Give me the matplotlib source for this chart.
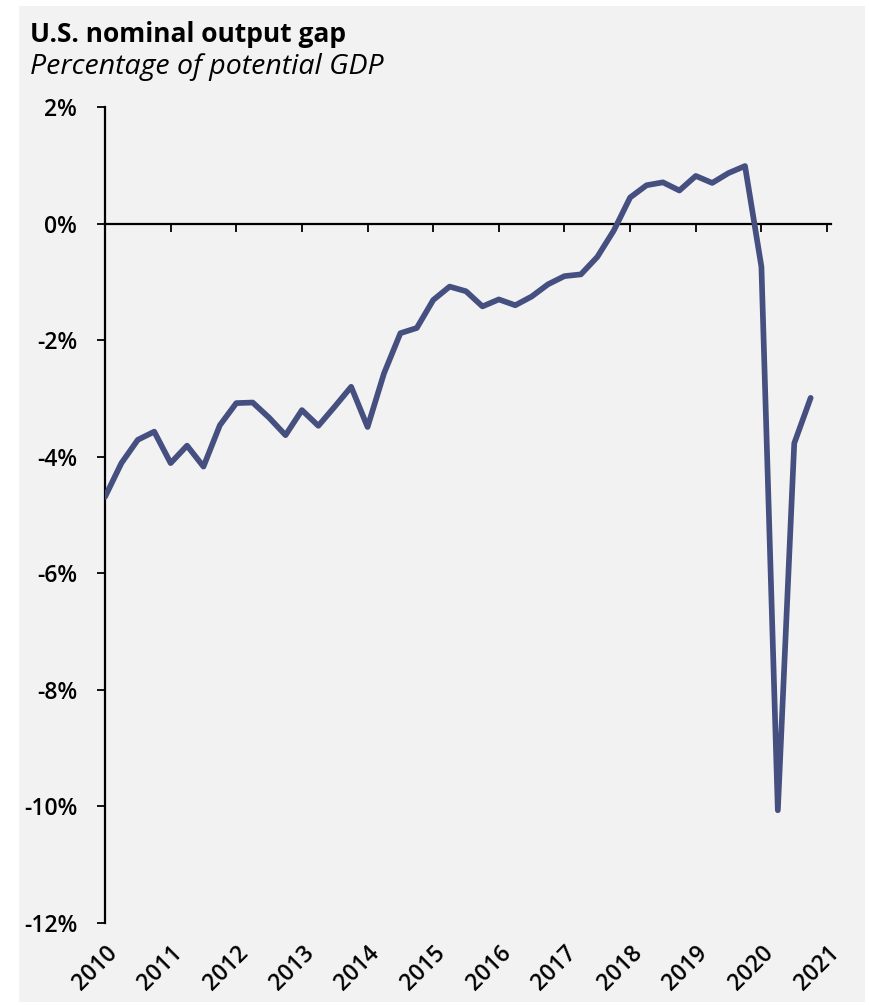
import numpy as np
import matplotlib
matplotlib.use('agg')
from matplotlib import pyplot as plt, rcParams
from matplotlib.patches import Rectangle
from matplotlib.ticker import FuncFormatter

# quarterly nominal output gap, % of potential GDP, 2010Q1 - 2020Q4
gap = [-4.69, -4.11, -3.71, -3.57, -4.11, -3.81, -4.17, -3.46,
       -3.08, -3.07, -3.33, -3.63, -3.20, -3.47, -3.14, -2.80,
       -3.49, -2.57, -1.88, -1.79, -1.31, -1.08, -1.16, -1.42,
       -1.30, -1.40, -1.25, -1.04, -0.90, -0.87, -0.57, -0.12,
       0.45, 0.66, 0.71, 0.57, 0.82, 0.70, 0.87, 0.99,
       -0.74, -10.07, -3.77, -2.99]
quarters = 2010 + np.arange(len(gap)) / 4
years = list(range(2010, 2022))
yticks = [2, 0, -2, -4, -6, -8, -10, -12]

title = 'U.S. nominal output gap'
subtitle = 'Percentage of potential GDP'

rcParams['font.family'] = ['Open Sans', 'DejaVu Sans']

W, H = 869, 1005
fig = plt.figure(figsize=(W / 100, H / 100), dpi=100)
fig.patch.set_facecolor('white')
fig.patches.append(Rectangle((19 / W, 1 - 1002 / H), (865 - 19) / W, (1002 - 6) / H,
                             transform=fig.transFigure, facecolor='#f2f2f2',
                             edgecolor='none', zorder=-5))

ax = fig.add_axes([105 / W, 1 - 922.7 / H, 726 / W, (922.7 - 107.2) / H])
ax.set_facecolor('none')
ax.set_zorder(2)

ax.plot(quarters, gap, color='#454f80', lw=4.1, solid_joinstyle='round',
        solid_capstyle='round', zorder=3)

ax.set_xlim(2010, 2021.06)
ax.set_ylim(-12, 2)

# x axis drawn on the zero line, labels at the bottom
ax.spines['bottom'].set_position(('data', 0))
ax.spines['top'].set_visible(False)
ax.spines['right'].set_visible(False)
for s in ['left', 'bottom']:
    ax.spines[s].set_linewidth(1.6)
ax.set_xticks(years)
ax.tick_params(axis='x', direction='out', length=5.5, width=1.3, labelbottom=False)

sec = ax.secondary_xaxis('bottom')
sec.spines['bottom'].set_visible(False)
sec.set_xticks(years)
sec.set_xticklabels([str(y) for y in years])
sec.tick_params(axis='x', length=0, pad=13, labelsize=16.5)
for lab in sec.get_xticklabels():
    lab.set_rotation(45)
    lab.set_ha('right')
    lab.set_va('top')
    lab.set_rotation_mode('anchor')
    lab.set_fontweight('semibold')

ax.set_yticks(yticks)
ax.yaxis.set_major_formatter(FuncFormatter(lambda v, p: f'{v:.0f}%'))
ax.tick_params(axis='y', direction='out', length=6, width=1.3, pad=14, labelsize=16.5)
for lab in ax.get_yticklabels():
    lab.set_fontweight('semibold')

fig.text(30 / W, 1 - 41.5 / H, title, fontsize=19, fontweight='bold', va='baseline')
fig.text(30 / W, 1 - 74 / H, subtitle, fontsize=20.5, style='italic', va='baseline')

fig.savefig('out.png', dpi=100)
